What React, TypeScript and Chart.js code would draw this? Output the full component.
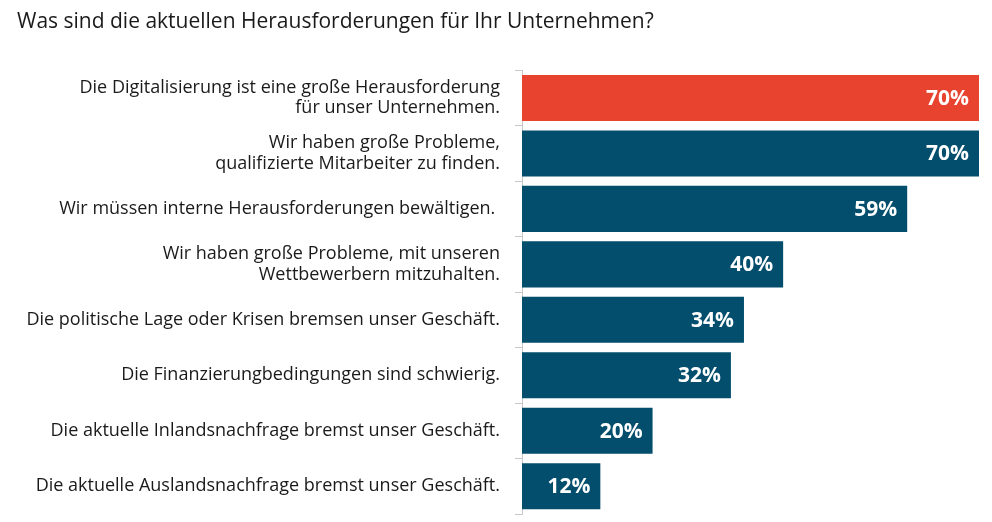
import React, { useEffect, useRef } from "react";
import { Chart, registerables } from "chart.js";

Chart.register(...registerables);

const TITLE = "Was sind die aktuellen Herausforderungen für Ihr Unternehmen?";

const categories: (string | string[])[] = [
  ["Die Digitalisierung ist eine große Herausforderung", "für unser Unternehmen."],
  ["Wir haben große Probleme,", "qualifizierte Mitarbeiter zu finden."],
  "Wir müssen interne Herausforderungen bewältigen. ",
  ["Wir haben große Probleme, mit unseren", "Wettbewerbern mitzuhalten."],
  "Die politische Lage oder Krisen bremsen unser Geschäft.",
  "Die Finanzierungbedingungen sind schwierig.",
  "Die aktuelle Inlandsnachfrage bremst unser Geschäft.",
  "Die aktuelle Auslandsnachfrage bremst unser Geschäft.",
];

const values: number[] = [70, 70, 59, 40, 34, 32, 20, 12];

const HIGHLIGHT = "#E8432F";
const BASE = "#034E6D";
const barColors = values.map((_, i) => (i === 0 ? HIGHLIGHT : BASE));

const valueLabelPlugin = {
  id: "valueLabels",
  afterDatasetsDraw(chart: any) {
    const ctx = chart.ctx;
    const meta = chart.getDatasetMeta(0);
    ctx.save();
    ctx.fillStyle = "#ffffff";
    ctx.font = "bold 21px 'Open Sans'";
    ctx.textAlign = "right";
    ctx.textBaseline = "middle";
    meta.data.forEach((bar: any, i: number) => {
      const v = chart.data.datasets[0].data[i];
      ctx.fillText(`${v}%`, bar.x - 10, bar.y + 1);
    });
    ctx.restore();
  },
};

export default function App() {
  const ref = useRef<HTMLCanvasElement | null>(null);

  useEffect(() => {
    if (!ref.current) return;
    const chart = new Chart(ref.current, {
      type: "bar",
      data: {
        labels: categories,
        datasets: [
          {
            data: values,
            backgroundColor: barColors,
            borderWidth: 0,
            barPercentage: 0.83,
            categoryPercentage: 1,
          },
        ],
      },
      options: {
        indexAxis: "y",
        animation: false,
        responsive: false,
        layout: { padding: { left: 17, right: 13, bottom: 8, top: 0 } },
        plugins: {
          legend: { display: false },
          tooltip: { enabled: false },
          title: {
            display: true,
            text: TITLE,
            align: "start",
            color: "#1a1a1a",
            font: { family: "'Open Sans'", size: 21, weight: "normal", lineHeight: 1.2 },
            padding: { top: 9, bottom: 36 },
          },
        },
        scales: {
          x: {
            display: false,
            min: 0,
            max: 70,
          },
          y: {
            afterFit(scale: any) {
              scale.width = 505;
              scale.paddingTop = 0;
              scale.paddingBottom = 0;
            },
            grid: {
              display: true,
              offset: true,
              drawOnChartArea: false,
              drawTicks: true,
              tickLength: 7,
              color: "#c8c8c8",
            },
            border: { display: true, color: "#c8c8c8" },
            ticks: {
              color: "#1a1a1a",
              padding: 15,
              font: { family: "'Open Sans'", size: 18, lineHeight: 1.12 },
            },
          },
        },
      },
      plugins: [valueLabelPlugin],
    });
    return () => chart.destroy();
  }, []);

  return (
    <div style={{ position: "absolute", left: 0, top: 0, width: 992, height: 522, background: "#fff" }}>
      <canvas ref={ref} width={992} height={522} />
    </div>
  );
}
